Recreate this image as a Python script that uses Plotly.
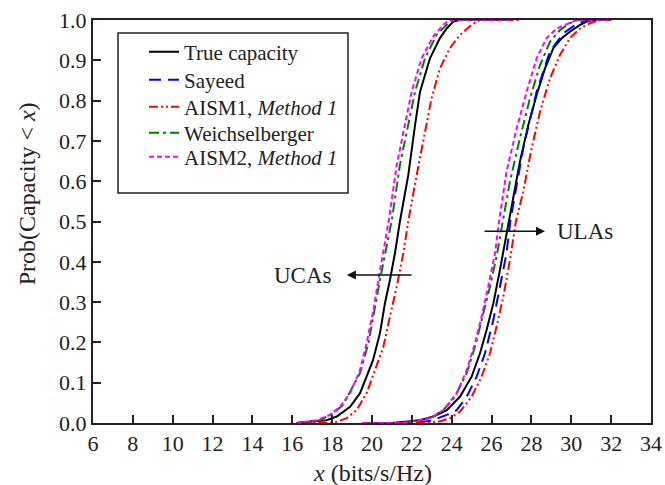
import plotly.graph_objects as go

# Empirical CDFs of the channel capacity, UCA group
uca_true_x = [16.2, 17.05, 17.72, 18.23, 18.55, 18.9, 19.4, 19.8, 20.05, 20.4, 20.65, 20.9, 21.15, 21.4, 21.82, 22.16, 22.41, 22.91, 23.41, 23.75, 24.07, 24.4, 27.0]
uca_true_y = [0.0, 0.003, 0.007, 0.016, 0.027, 0.040, 0.074, 0.124, 0.156, 0.223, 0.297, 0.355, 0.421, 0.50, 0.615, 0.739, 0.822, 0.905, 0.955, 0.979, 0.996, 1.0, 1.0]

uca_aism1_x = [16.2, 17.8, 18.23, 18.73, 19.23, 19.73, 20.15, 20.57, 20.9, 21.24, 21.57, 21.82, 22.24, 22.66, 22.99, 23.41, 23.91, 24.41, 25.0, 25.4, 27.5]
uca_aism1_y = [0.0, 0.0, 0.003, 0.012, 0.032, 0.074, 0.131, 0.189, 0.264, 0.338, 0.421, 0.50, 0.615, 0.723, 0.806, 0.880, 0.930, 0.963, 0.988, 1.0, 1.0]

uca_weich_x = [16.2, 17.39, 18.05, 18.55, 19.4, 19.82, 20.4, 21.0, 21.4, 21.82, 22.16, 22.66, 23.24, 23.75, 24.1, 27.0]
uca_weich_y = [0.0, 0.007, 0.024, 0.045, 0.124, 0.198, 0.355, 0.505, 0.640, 0.739, 0.822, 0.905, 0.963, 0.988, 1.0, 1.0]

uca_aism2_x = [16.2, 17.22, 17.89, 18.39, 18.9, 19.4, 19.73, 20.07, 20.32, 20.57, 20.85, 21.24, 21.65, 21.99, 22.49, 23.07, 23.58, 23.9, 27.0]
uca_aism2_y = [0.0, 0.007, 0.020, 0.040, 0.074, 0.131, 0.198, 0.280, 0.355, 0.421, 0.505, 0.640, 0.739, 0.822, 0.905, 0.959, 0.988, 1.0, 1.0]

# Empirical CDFs of the channel capacity, ULA group
ula_true_x = [19.5, 21.0, 22.41, 23.08, 23.75, 24.41, 25.0, 25.42, 25.75, 26.09, 26.42, 26.75, 26.9, 27.09, 27.42, 27.84, 28.26, 28.68, 29.1, 29.52, 29.93, 30.44, 30.77, 31.1, 32.0]
ula_true_y = [0.0, 0.0, 0.007, 0.016, 0.032, 0.065, 0.115, 0.173, 0.231, 0.297, 0.380, 0.471, 0.504, 0.566, 0.648, 0.739, 0.814, 0.880, 0.930, 0.955, 0.971, 0.988, 0.996, 1.0, 1.0]

ula_sayeed_x = [19.5, 22.0, 23.0, 23.75, 24.25, 24.75, 25.25, 25.67, 26.09, 26.42, 26.75, 26.95, 27.59, 28.26, 28.93, 29.6, 30.27, 30.8, 32.0]
ula_sayeed_y = [0.0, 0.0, 0.006, 0.020, 0.032, 0.065, 0.115, 0.173, 0.256, 0.338, 0.421, 0.504, 0.682, 0.822, 0.922, 0.967, 0.990, 1.0, 1.0]

ula_aism1_x = [20.0, 22.5, 23.4, 23.91, 24.41, 25.0, 25.5, 25.92, 26.25, 26.59, 26.92, 27.22, 27.59, 28.01, 28.43, 28.93, 29.43, 29.93, 30.44, 30.94, 31.4, 32.0]
ula_aism1_y = [0.0, 0.0, 0.004, 0.012, 0.028, 0.065, 0.115, 0.173, 0.239, 0.313, 0.404, 0.50, 0.574, 0.682, 0.772, 0.855, 0.913, 0.955, 0.979, 0.992, 1.0, 1.0]

ula_weich_x = [19.5, 21.5, 22.91, 23.58, 24.16, 24.75, 25.17, 25.5, 25.92, 26.25, 26.58, 26.92, 27.42, 27.93, 28.43, 28.93, 29.43, 29.93, 30.3, 32.0]
ula_weich_y = [0.0, 0.0, 0.012, 0.032, 0.065, 0.123, 0.189, 0.256, 0.338, 0.413, 0.50, 0.599, 0.706, 0.806, 0.888, 0.946, 0.975, 0.992, 1.0, 1.0]

ula_aism2_x = [19.5, 21.5, 22.91, 23.58, 24.25, 24.75, 25.17, 25.5, 25.83, 26.17, 26.4, 26.75, 27.26, 27.76, 28.26, 28.76, 29.27, 29.77, 30.27, 32.0]
ula_aism2_y = [0.0, 0.0, 0.012, 0.032, 0.074, 0.131, 0.198, 0.264, 0.338, 0.421, 0.508, 0.624, 0.731, 0.822, 0.905, 0.955, 0.979, 0.990, 1.0, 1.0]

x_ticks = list(range(6, 35, 2))
y_ticks = [round(0.1 * i, 1) for i in range(11)]

FONT = "Liberation Serif, Times New Roman, serif"
INK = "#222"

styles = {
    "true": dict(name="True capacity", color="#000000", dash="solid"),
    "sayeed": dict(name="Sayeed", color="#0000ff", dash="12px,7px"),
    "aism1": dict(name="AISM1, <i>Method 1</i>", color="#ff0000", dash="9px,3px,2px,3px,2px,3px"),
    "weich": dict(name="Weichselberger", color="#008000", dash="10px,4px,3px,4px"),
    "aism2": dict(name="AISM2, <i>Method 1</i>", color="#ff00ff", dash="5px,3px"),
}

series = [
    ("true", [(uca_true_x, uca_true_y), (ula_true_x, ula_true_y)]),
    ("sayeed", [(ula_sayeed_x, ula_sayeed_y)]),
    ("aism1", [(uca_aism1_x, uca_aism1_y), (ula_aism1_x, ula_aism1_y)]),
    ("weich", [(uca_weich_x, uca_weich_y), (ula_weich_x, ula_weich_y)]),
    ("aism2", [(uca_aism2_x, uca_aism2_y), (ula_aism2_x, ula_aism2_y)]),
]

# one legend per entry so the rows sit on a tight, even pitch
legend_ids = ["legend", "legend2", "legend3", "legend4", "legend5"]
row_px = [52, 80, 107, 133, 157]

fig = go.Figure()
for k, (key, curves) in enumerate(series):
    st = styles[key]
    for i, (xs, ys) in enumerate(curves):
        fig.add_trace(go.Scatter(
            x=xs, y=ys, mode="lines", name=st["name"], legendgroup=key,
            legend=legend_ids[k], showlegend=(i == 0),
            line=dict(color=st["color"], dash=st["dash"], width=2),
        ))

axis_common = dict(
    showline=True, linecolor=INK, linewidth=2, mirror=True,
    ticks="inside", ticklen=8, tickwidth=1.5, tickcolor=INK,
    showgrid=False, zeroline=False, automargin=False,
    tickfont=dict(family=FONT, size=22, color=INK),
)

fig.update_xaxes(range=[6, 34], tickvals=x_ticks, **axis_common)
fig.update_yaxes(range=[0, 1], tickvals=y_ticks, tickformat=".1f", **axis_common)

plot_left, plot_w, plot_bottom, plot_h = 93, 558, 423, 403

annotations = [
    dict(x=0.5, y=(plot_bottom - 473) / plot_h, xref="paper", yref="paper",
         xanchor="center", yanchor="middle", text="<i>x</i> (bits/s/Hz)", showarrow=False,
         font=dict(family=FONT, size=24, color=INK)),
    dict(x=-0.118, y=0.568, xref="paper", yref="paper", xanchor="center", yanchor="middle",
         text="Prob(Capacity < <i>x</i>)", textangle=-90, showarrow=False,
         font=dict(family=FONT, size=24, color=INK)),
    # UCA arrow and label
    dict(x=18.74, y=0.367, ax=22.06, ay=0.367, xref="x", yref="y", axref="x", ayref="y",
         text="", showarrow=True, arrowhead=2, arrowsize=1.2, arrowwidth=1.5, arrowcolor="#111"),
    dict(x=16.54, y=0.367, xref="x", yref="y", text="UCAs", showarrow=False,
         font=dict(family=FONT, size=23, color=INK)),
    # ULA arrow and label
    dict(x=28.68, y=0.476, ax=25.57, ay=0.476, xref="x", yref="y", axref="x", ayref="y",
         text="", showarrow=True, arrowhead=2, arrowsize=1.2, arrowwidth=1.5, arrowcolor="#111"),
    dict(x=30.69, y=0.476, xref="x", yref="y", text="ULAs", showarrow=False,
         font=dict(family=FONT, size=23, color=INK)),
]

layout_legends = {}
for lid, py in zip(legend_ids, row_px):
    layout_legends[lid] = dict(
        x=(144 - plot_left) / plot_w, y=(plot_bottom - py) / plot_h,
        xanchor="left", yanchor="middle",
        bgcolor="rgba(255,255,255,0)", borderwidth=0,
        font=dict(family=FONT, size=21, color=INK),
    )

fig.update_layout(
    width=665, height=485,
    margin=dict(l=93, r=14, t=20, b=62),
    paper_bgcolor="white", plot_bgcolor="white",
    font=dict(family=FONT, size=21, color=INK),
    showlegend=True,
    annotations=annotations,
    shapes=[dict(type="rect", xref="paper", yref="paper",
                 x0=(118 - plot_left) / plot_w, x1=(348 - plot_left) / plot_w,
                 y0=(plot_bottom - 193) / plot_h, y1=(plot_bottom - 33) / plot_h,
                 line=dict(color=INK, width=1.5), fillcolor="rgba(0,0,0,0)")],
    **layout_legends,
)

fig.write_html("out.html")
